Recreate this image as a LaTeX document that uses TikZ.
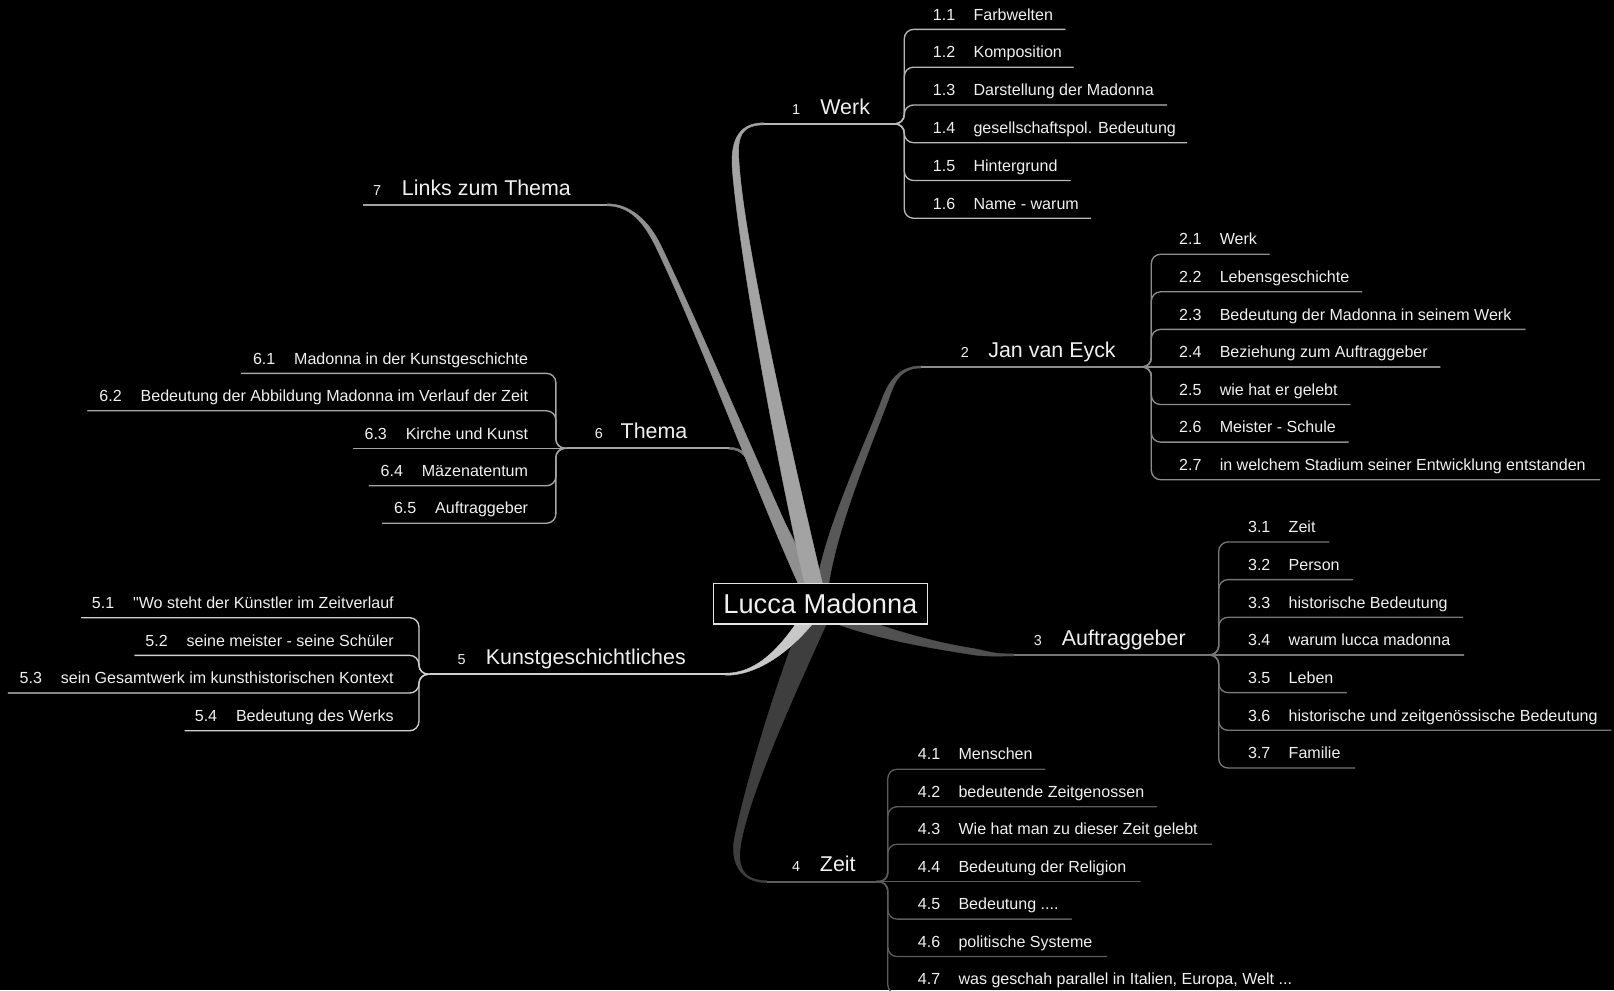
\documentclass[tikz,border=0pt]{standalone}
\usepackage{fontspec}
\setmainfont{Liberation Sans}
\usetikzlibrary{calc}

% same face without the TeX input mapping, for a straight double quote
\font\plainquote="Liberation Sans" at 15.6pt

\definecolor{txt}{HTML}{F0F0F0}
\definecolor{boxc}{HTML}{E4E4E4}
\definecolor{br1}{HTML}{A3A3A3}\definecolor{ln1}{HTML}{B8B8B8}
\definecolor{br2}{HTML}{585858}\definecolor{ln2}{HTML}{8C8C8C}
\definecolor{br3}{HTML}{505050}\definecolor{ln3}{HTML}{767676}
\definecolor{br4}{HTML}{3E3E3E}\definecolor{ln4}{HTML}{5C5C5C}
\definecolor{br5}{HTML}{C8C8C8}\definecolor{ln5}{HTML}{CFCFCF}
\definecolor{br6}{HTML}{787878}\definecolor{ln6}{HTML}{A6A6A6}
\definecolor{br7}{HTML}{909090}\definecolor{ln7}{HTML}{A2A2A2}

% tapered ribbon along a cubic: colour, four control points, half widths at both ends
\newcommand\branchwedge[7]{%
  \filldraw[#1, line width=0.4pt]
    ($(#2)!#6!90:(#3)$) .. controls ($(#3)!#6!-90:(#2)$) and ($(#4)!#7!90:(#5)$) .. ($(#5)!#7!-90:(#4)$)
    -- ($(#5)!#7!90:(#4)$) .. controls ($(#4)!#7!-90:(#5)$) and ($(#3)!#6!90:(#2)$) .. ($(#2)!#6!-90:(#3)$)
    -- cycle;}

% main topic: name, number x, label x, underline y, number, label
\newcommand\mainnode[6]{%
  \node[mainnum] (#1n) at (#2,#4-9.5) {#5};
  \node[maintext] (#1) at (#3,#4-9.5) {#6};}

% sub topic to the right: fork, y, end x, colour, name, number, label, number x
\newcommand\subR[8]{%
  \node[subtext] (#5n) at (#8,#2-9) {#6};
  \node[subtext] (#5) at (#8+39.5,#2-9) {#7};
  \coordinate (#5e) at (#3,#2);
  \draw[subline,#4] (#1) -- ++(11,0) |- (#5e);}
\newcommand\subRm[8]{%
  \node[subtext] (#5n) at (#8,#2-9) {#6};
  \node[subtext] (#5) at (#8+39.5,#2-9) {#7};
  \coordinate (#5e) at (#3,#2);
  \draw[subline,#4] (#1) -- (#5e);}

% sub topic to the left: fork, y, end x, colour, name, number, label, label right x
\newcommand\subL[8]{%
  \node[subtext, anchor=base east] (#5) at (#8,#2-9) {#7};
  \node[subtext] (#5n) at ([xshift=-40pt]#5.base west) {#6};
  \coordinate (#5e) at (#3,#2);
  \draw[subline,#4] (#1) -- ++(-11,0) |- (#5e);}
\newcommand\subLm[8]{%
  \node[subtext, anchor=base east] (#5) at (#8,#2-9) {#7};
  \node[subtext] (#5n) at ([xshift=-40pt]#5.base west) {#6};
  \coordinate (#5e) at (#3,#2);
  \draw[subline,#4] (#1) -- (#5e);}

\begin{document}
\begin{tikzpicture}[x=1pt, y=-1pt,
  every node/.style={inner sep=0pt, outer sep=0pt, text=txt},
  subtext/.style={font=\fontsize{15.6}{18}\selectfont, anchor=base west},
  maintext/.style={font=\fontsize{20.8}{24}\selectfont, anchor=base west},
  mainnum/.style={font=\fontsize{14}{16}\selectfont, anchor=base west},
  subline/.style={line width=1.3pt, rounded corners=9pt, line cap=round},
  mainline/.style={line width=1.8pt},
  rootbox/.style={draw=boxc, line width=1.5pt, fill=black, minimum width=208pt,
    minimum height=39pt, font=\fontsize{26.5}{30}\selectfont}]
\useasboundingbox (0,0) rectangle (1568,962);
\fill[black] (0,0) rectangle (1568,962);
\begin{scope}
\clip (0,0) rectangle (1568,962);

% ---- ribbons from the centre
% Werk
\coordinate (b1a) at (795,587);   \coordinate (b1b) at (765,460);
\coordinate (b1c) at (722,250);   \coordinate (b1d) at (715,165);
\coordinate (b1k) at (713,140);   \coordinate (b1l) at (715,120.3);
\coordinate (b1e) at (742,120.3); \coordinate (f1) at (867.5,120.3);
% Jan van Eyck
\coordinate (b2a) at (797,587);   \coordinate (b2b) at (800,530);
\coordinate (b2c) at (838.7,444.1); \coordinate (b2d) at (860,388);
\coordinate (b2k) at (865.3,374); \coordinate (b2l) at (872,356.5);
\coordinate (b2e) at (895,356.5); \coordinate (f2) at (1107.5,356.5);
% Auftraggeber
\coordinate (b3a) at (797,592);   \coordinate (b3b) at (840,612);
\coordinate (b3c) at (900,626);   \coordinate (b3d) at (945,633);
\coordinate (b3k) at (956.9,634.85); \coordinate (b3l) at (962,636.3);
\coordinate (b3e) at (985,636.3); \coordinate (f3) at (1173,636.3);
% Zeit
\coordinate (b4a) at (797,590);   \coordinate (b4b) at (770,650);
\coordinate (b4c) at (728,760);   \coordinate (b4d) at (717,815);
\coordinate (b4k) at (712.7,836.6); \coordinate (b4l) at (718,856.5);
\coordinate (b4e) at (745,856.5); \coordinate (f4) at (851.5,856.5);
% Kunstgeschichtliches
\coordinate (b5a) at (793,590);   \coordinate (b5b) at (775,615);
\coordinate (b5c) at (745,655);   \coordinate (b5e) at (705,655);
\coordinate (f5) at (418,655);
% Thema
\coordinate (b6a) at (796,587);   \coordinate (b6b) at (778,548);
\coordinate (b6c) at (750,490);   \coordinate (b6d) at (733,456);
\coordinate (b6k) at (727.6,445.3); \coordinate (b6l) at (722,435.5);
\coordinate (b6e) at (708,435.5); \coordinate (f6) at (551,435.5);
% Links zum Thema
\coordinate (b7a) at (792,587);   \coordinate (b7b) at (752,505);
\coordinate (b7c) at (690,345);   \coordinate (b7d) at (640,240);
\coordinate (b7k) at (628,215);   \coordinate (b7l) at (612,199);
\coordinate (b7e) at (590,199);   \coordinate (m7end) at (353,199);

\branchwedge{br6}{b6a}{b6b}{b6c}{b6d}{6pt}{2pt}
\branchwedge{br6}{b6d}{b6k}{b6l}{b6e}{2pt}{1pt}
\branchwedge{br7}{b7a}{b7b}{b7c}{b7d}{6.5pt}{2.5pt}
\branchwedge{br7}{b7d}{b7k}{b7l}{b7e}{2.5pt}{1pt}
\branchwedge{br2}{b2a}{b2b}{b2c}{b2d}{6pt}{3pt}
\branchwedge{br2}{b2d}{b2k}{b2l}{b2e}{3pt}{1pt}
\branchwedge{br1}{b1a}{b1b}{b1c}{b1d}{8.5pt}{3.5pt}
\branchwedge{br1}{b1d}{b1k}{b1l}{b1e}{3.5pt}{1pt}
\branchwedge{br4}{b4a}{b4b}{b4c}{b4d}{12pt}{3.5pt}
\branchwedge{br4}{b4d}{b4k}{b4l}{b4e}{3.5pt}{1pt}
\branchwedge{br3}{b3a}{b3b}{b3c}{b3d}{7pt}{3pt}
\branchwedge{br3}{b3d}{b3k}{b3l}{b3e}{3pt}{1pt}
\branchwedge{br5}{b5a}{b5b}{b5c}{b5e}{7pt}{1pt}

% ---- main underlines
\draw[mainline, ln1] (b1e) -- (f1);
\draw[mainline, ln2] (b2e) -- (f2);
\draw[mainline, ln3] (b3e) -- (f3);
\draw[mainline, ln4] (b4e) -- (f4);
\draw[mainline, ln5] (b5e) -- (f5);
\draw[mainline, ln6] (b6e) -- (f6);
\draw[mainline, ln7] (b7e) -- (m7end);

% ---- main topics
\mainnode{m1}{769.5}{797}{120.3}{1}{Werk}
\mainnode{m2}{933.5}{960.2}{356.5}{2}{Jan van Eyck}
\mainnode{m3}{1004.5}{1031.6}{636.3}{3}{Auftraggeber}
\mainnode{m4}{769.5}{796.6}{856.5}{4}{Zeit}
\mainnode{m5}{444.5}{472}{655}{5}{Kunstgeschichtliches}
\mainnode{m6}{578}{603}{435.5}{6}{Thema}
\mainnode{m7}{362.5}{390.5}{199}{7}{Links zum Thema}

% ---- 1 Werk
\subR{f1}{28.55}{1034.7}{ln1}{s11}{1.1}{Farbwelten}{906.3}
\subR{f1}{65.25}{1042.8}{ln1}{s12}{1.2}{Komposition}{906.3}
\subR{f1}{101.95}{1133.5}{ln1}{s13}{1.3}{Darstellung der Madonna}{906.3}
\subR{f1}{138.65}{1152.9}{ln1}{s14}{1.4}{gesellschaftspol. Bedeutung}{906.3}
\subR{f1}{175.35}{1039.6}{ln1}{s15}{1.5}{Hintergrund}{906.3}
\subR{f1}{212.05}{1059.6}{ln1}{s16}{1.6}{Name - warum}{906.3}

% ---- 2 Jan van Eyck
\subR{f2}{247}{1233}{ln2}{s21}{2.1}{Werk}{1145.5}
\subR{f2}{283.5}{1323}{ln2}{s22}{2.2}{Lebensgeschichte}{1145.5}
\subR{f2}{320}{1481.5}{ln2}{s23}{2.3}{Bedeutung der Madonna in seinem Werk}{1145.5}
\subRm{f2}{356.5}{1399}{ln2}{s24}{2.4}{Beziehung zum Auftraggeber}{1145.5}
\subR{f2}{393}{1311.5}{ln2}{s25}{2.5}{wie hat er gelebt}{1145.5}
\subR{f2}{429.5}{1310}{ln2}{s26}{2.6}{Meister - Schule}{1145.5}
\subR{f2}{466}{1554}{ln2}{s27}{2.7}{in welchem Stadium seiner Entwicklung entstanden}{1145.5}

% ---- 3 Auftraggeber
\subR{f3}{526.5}{1291}{ln3}{s31}{3.1}{Zeit}{1212.5}
\subR{f3}{563.1}{1314}{ln3}{s32}{3.2}{Person}{1212.5}
\subR{f3}{599.7}{1421}{ln3}{s33}{3.3}{historische Bedeutung}{1212.5}
\subRm{f3}{636.3}{1422}{ln3}{s34}{3.4}{warum lucca madonna}{1212.5}
\subR{f3}{672.9}{1308}{ln3}{s35}{3.5}{Leben}{1212.5}
\subR{f3}{709.5}{1565}{ln3}{s36}{3.6}{historische und zeitgenössische Bedeutung}{1212.5}
\subR{f3}{746.1}{1316}{ln3}{s37}{3.7}{Familie}{1212.5}

% ---- 4 Zeit
\subR{f4}{747.3}{1015.2}{ln4}{s41}{4.1}{Menschen}{891.7}
\subR{f4}{783.7}{1123.7}{ln4}{s42}{4.2}{bedeutende Zeitgenossen}{891.7}
\subR{f4}{820.1}{1177.1}{ln4}{s43}{4.3}{Wie hat man zu dieser Zeit gelebt}{891.7}
\subRm{f4}{856.5}{1107.5}{ln4}{s44}{4.4}{Bedeutung der Religion}{891.7}
\subR{f4}{892.9}{1041.1}{ln4}{s45}{4.5}{Bedeutung ....}{891.7}
\subR{f4}{929.3}{1075.1}{ln4}{s46}{4.6}{politische Systeme}{891.7}
\subR{f4}{965.7}{1270}{ln4}{s47}{4.7}{was geschah parallel in Italien, Europa, Welt ...}{891.7}

% ---- 5 Kunstgeschichtliches
\subL{f5}{600.1}{79.3}{ln5}{s51}{5.1}{{\plainquote"}Wo steht der Künstler im Zeitverlauf}{382.5}
\subL{f5}{636.7}{131}{ln5}{s52}{5.2}{seine meister - seine Schüler}{382.5}
\subL{f5}{673.3}{8.1}{ln5}{s53}{5.3}{sein Gesamtwerk im kunsthistorischen Kontext}{382.5}
\subL{f5}{709.9}{179.7}{ln5}{s54}{5.4}{Bedeutung des Werks}{382.5}

% ---- 6 Thema
\subL{f6}{362.7}{234.5}{ln6}{s61}{6.1}{Madonna in der Kunstgeschichte}{513}
\subL{f6}{399.1}{85.2}{ln6}{s62}{6.2}{Bedeutung der Abbildung Madonna im Verlauf der Zeit}{513}
\subLm{f6}{435.5}{343.5}{ln6}{s63}{6.3}{Kirche und Kunst}{513}
\subL{f6}{471.9}{358.8}{ln6}{s64}{6.4}{Mäzenatentum}{513}
\subL{f6}{508.3}{371.7}{ln6}{s65}{6.5}{Auftraggeber}{513}

% ---- central topic
\node[rootbox] (root) at (797,586.5) {Lucca Madonna};
\end{scope}
\end{tikzpicture}
\end{document}
